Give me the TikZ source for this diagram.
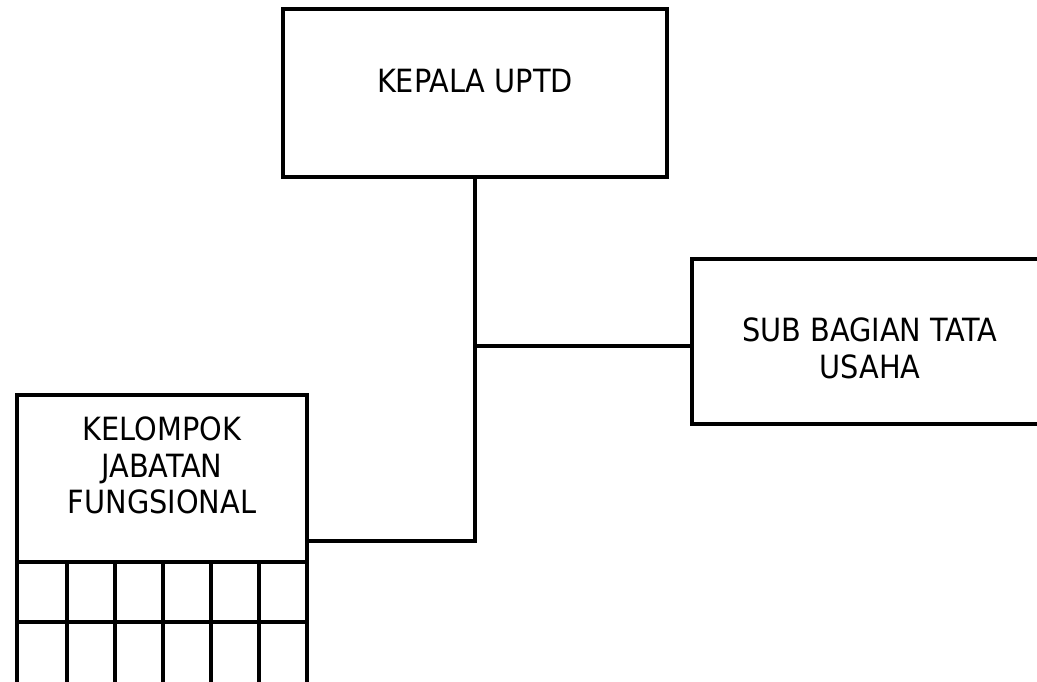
\documentclass[tikz,border=0pt]{standalone}
\usepackage{fontspec}
\setmainfont{DejaVu Sans Condensed}
\begin{document}
\begin{tikzpicture}[x=1pt,y=-1pt,
  box/.style={draw, rectangle, inner sep=0pt, outer sep=0pt, line width=4.5pt},
  lbl/.style={font=\fontsize{32}{36.5}\selectfont, align=center, inner sep=0pt},
  conn/.style={line width=4.5pt}]
\useasboundingbox (0,0) rectangle (1037,681);
\clip (0,0) rectangle (1037,681);
\fill[white] (0,0) rectangle (1037,681);
% boxes
\node[box, minimum width=384pt, minimum height=168pt] (kepala) at (475,93) {};
\node[box, minimum width=400pt, minimum height=165pt, anchor=north west] (sub) at (692,259) {};
\node[box, minimum width=290pt, minimum height=167pt, anchor=north west] (kel) at (17,395) {};
% labels
\node[lbl, anchor=base] (tkepala) at (475,92) {KEPALA UPTD};
\node[lbl, anchor=base] (tsub1) at (870,341) {SUB BAGIAN TATA};
\node[lbl, anchor=base] (tsub2) at (870,378) {USAHA};
\node[lbl, anchor=base] (tkel1) at (162,440) {KELOMPOK};
\node[lbl, anchor=base] (tkel2) at (162,477) {JABATAN};
\node[lbl, anchor=base] (tkel3) at (162,513) {FUNGSIONAL};
% grid below kelompok
\foreach \x in {17,67,115,163,211,259,307} {
  \draw[conn] (\x,562) -- (\x,700);
}
\draw[conn] (17,622) -- (307,622);
% connectors
\coordinate (jsub) at (475,346);
\coordinate (jkel) at (475,541);
\draw[conn] (kepala.south) -- (jsub) -- (jkel) -- (kel.east |- jkel);
\draw[conn] (jsub) -- (sub.west |- jsub);
\end{tikzpicture}
\end{document}
